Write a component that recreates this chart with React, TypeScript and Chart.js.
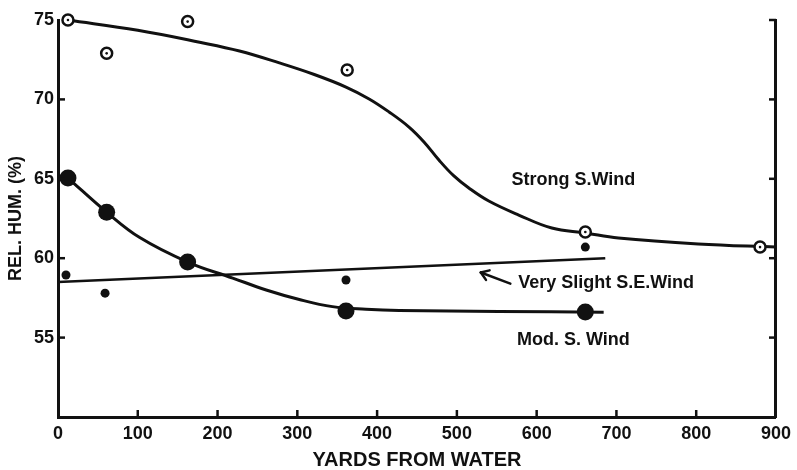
import { useEffect, useRef } from "react";
import { Chart, registerables } from "chart.js";

Chart.register(...registerables);

const INK = "#111111";
const FONT = '"Liberation Sans", Arial, sans-serif';

// Axis ticks
const xTickValues = [0, 100, 200, 300, 400, 500, 600, 700, 800, 900];
const yTickLabels = [55, 60, 65, 70, 75];
const xInnerTicks = [100, 200, 300, 400, 500, 600, 700, 800];
const yLeftInnerTicks = [55, 60, 65, 70];
const yRightInnerTicks = [55, 60, 65, 70, 75];

// Strong S. Wind (open circles)
const strongX = [12.5, 61, 162.5, 362.5, 661, 880];
const strongY = [75.0, 72.9, 74.9, 71.85, 61.65, 60.7];
const strongCurveX = [12.5, 100, 177.5, 227.5, 277.5, 321.25, 361, 390, 415, 440, 458.75, 477.5, 496.25, 515, 540, 577.5, 619, 661, 702.5, 802.5, 900];
const strongCurveY = [75.0, 74.35, 73.6, 73.05, 72.3, 71.57, 70.78, 70.03, 69.21, 68.26, 67.32, 66.18, 65.18, 64.42, 63.6, 62.72, 61.9, 61.59, 61.27, 60.9, 60.7];

// Mod. S. Wind (large filled dots)
const modX = [12.5, 61, 162.5, 361, 661];
const modY = [65.05, 62.9, 59.76, 56.67, 56.61];
const modCurveX = [12.5, 61, 102.5, 162.5, 219, 261, 302.5, 344, 386, 427.5, 552.5, 684];
const modCurveY = [65.05, 62.9, 61.3, 59.76, 58.75, 58.0, 57.4, 56.95, 56.78, 56.7, 56.65, 56.6];

// Very Slight S.E. Wind (small filled dots)
const slightX = [10, 59, 361, 661];
const slightY = [58.94, 57.8, 58.63, 60.7];
const slightLineX = [0, 686];
const slightLineY = [58.5, 60.0];

// Annotations (data coordinates)
const labelTexts = ["Strong S.Wind", "Very Slight S.E.Wind", "Mod. S. Wind"];
const labelX = [646, 687, 646];
const labelY = [64.9, 58.44, 54.85];
const arrowTail = { x: 567, y: 58.4 };
const arrowHead = { x: 530, y: 59.1 };

const pts = (xs: number[], ys: number[]) => xs.map((x, i) => ({ x, y: ys[i] }));

const decorPlugin = {
  id: "decor",
  afterDatasetsDraw(chart: any) {
    const { ctx, chartArea, scales } = chart;
    const xs = scales.x;
    const ys = scales.y;
    ctx.save();
    ctx.strokeStyle = INK;
    ctx.lineWidth = 2.5;
    ctx.lineCap = "butt";
    const seg = (x1: number, y1: number, x2: number, y2: number) => {
      ctx.beginPath();
      ctx.moveTo(x1, y1);
      ctx.lineTo(x2, y2);
      ctx.stroke();
    };
    for (const v of yLeftInnerTicks) {
      const py = ys.getPixelForValue(v);
      seg(chartArea.left, py, chartArea.left + 7, py);
    }
    for (const v of yRightInnerTicks) {
      const py = ys.getPixelForValue(v);
      seg(chartArea.right - 7, py, chartArea.right, py);
    }
    for (const v of xInnerTicks) {
      const px = xs.getPixelForValue(v);
      seg(px, chartArea.bottom, px, chartArea.bottom - 7);
    }
    ctx.fillStyle = INK;
    ctx.font = `bold 18px ${FONT}`;
    ctx.textAlign = "center";
    ctx.textBaseline = "middle";
    labelTexts.forEach((t, i) => {
      ctx.fillText(t, xs.getPixelForValue(labelX[i]), ys.getPixelForValue(labelY[i]));
    });
    // arrow
    const tx = xs.getPixelForValue(arrowTail.x);
    const ty = ys.getPixelForValue(arrowTail.y);
    const hx = xs.getPixelForValue(arrowHead.x);
    const hy = ys.getPixelForValue(arrowHead.y);
    ctx.lineWidth = 2.5;
    ctx.lineCap = "round";
    seg(tx, ty, hx, hy);
    const ang = Math.atan2(ty - hy, tx - hx);
    const L = 9;
    seg(hx, hy, hx + L * Math.cos(ang + 0.6), hy + L * Math.sin(ang + 0.6));
    seg(hx, hy, hx + L * Math.cos(ang - 0.6), hy + L * Math.sin(ang - 0.6));
    ctx.restore();
  },
};

export default function App() {
  const ref = useRef<HTMLCanvasElement | null>(null);
  useEffect(() => {
    document.body.style.margin = "0";
    if (!ref.current) return;
    const chart = new Chart(ref.current, {
      type: "scatter",
      data: {
        datasets: [
          {
            data: pts(strongX, strongY),
            pointRadius: 1.3,
            pointBackgroundColor: INK,
            pointBorderWidth: 0,
            order: 0,
            clip: false,
          } as any,
          {
            data: pts(strongX, strongY),
            pointRadius: 5.5,
            pointBackgroundColor: "#ffffff",
            pointBorderColor: INK,
            pointBorderWidth: 2.5,
            order: 1,
            clip: false,
          },
          {
            data: pts(modX, modY),
            pointRadius: 8.5,
            pointBackgroundColor: INK,
            pointBorderWidth: 0,
            order: 1,
            clip: false,
          },
          {
            data: pts(slightX, slightY),
            pointRadius: 4.5,
            pointBackgroundColor: INK,
            pointBorderWidth: 0,
            order: 1,
            clip: false,
          },
          {
            data: pts(strongCurveX, strongCurveY),
            showLine: true,
            pointRadius: 0,
            borderColor: INK,
            borderWidth: 3,
            tension: 0.4,
            order: 2,
            clip: false,
          },
          {
            data: pts(modCurveX, modCurveY),
            showLine: true,
            pointRadius: 0,
            borderColor: INK,
            borderWidth: 3,
            tension: 0.4,
            order: 2,
            clip: false,
          },
          {
            data: pts(slightLineX, slightLineY),
            showLine: true,
            pointRadius: 0,
            borderColor: INK,
            borderWidth: 2.5,
            order: 2,
            clip: false,
          },
        ],
      },
      options: {
        animation: false,
        responsive: false,
        events: [],
        layout: { padding: { top: 20, left: 0, right: 0, bottom: 0 } },
        plugins: { legend: { display: false }, tooltip: { enabled: false } },
        scales: {
          x: {
            type: "linear",
            position: "bottom",
            min: 0,
            max: 900,
            afterBuildTicks: (s: any) => {
              s.ticks = xTickValues.map((v) => ({ value: v }));
            },
            afterFit: (s: any) => {
              s.height = 53;
            },
            ticks: {
              color: INK,
              padding: 6,
              maxRotation: 0,
              autoSkip: false,
              font: { family: FONT, size: 18, weight: "bold" },
            },
            grid: { display: false, drawTicks: false },
            border: { display: true, color: INK, width: 3 },
            title: {
              display: true,
              text: "YARDS FROM WATER",
              color: INK,
              padding: { top: 0, bottom: 0 },
              font: { family: FONT, size: 20, weight: "bold", lineHeight: 1 },
            },
          },
          y: {
            type: "linear",
            position: "left",
            min: 50,
            max: 75,
            afterBuildTicks: (s: any) => {
              s.ticks = yTickLabels.map((v) => ({ value: v }));
            },
            afterFit: (s: any) => {
              s.width = 58;
            },
            ticks: {
              color: INK,
              padding: 4,
              font: { family: FONT, size: 18, weight: "bold" },
            },
            grid: { display: false, drawTicks: false },
            border: { display: true, color: INK, width: 3 },
            title: {
              display: true,
              text: "REL. HUM. (%)",
              color: INK,
              padding: { top: 5, bottom: 0 },
              font: { family: FONT, size: 18, weight: "bold", lineHeight: 1.2 },
            },
          },
          y2: {
            type: "linear",
            position: "right",
            min: 50,
            max: 75,
            afterFit: (s: any) => {
              s.width = 19;
            },
            ticks: { display: false },
            grid: { display: false, drawTicks: false },
            border: { display: true, color: INK, width: 3 },
          },
        },
      },
      plugins: [decorPlugin],
    });
    return () => chart.destroy();
  }, []);
  return (
    <div style={{ width: 797, height: 470 }}>
      <canvas ref={ref} width={797} height={470} style={{ display: "block" }} />
    </div>
  );
}
